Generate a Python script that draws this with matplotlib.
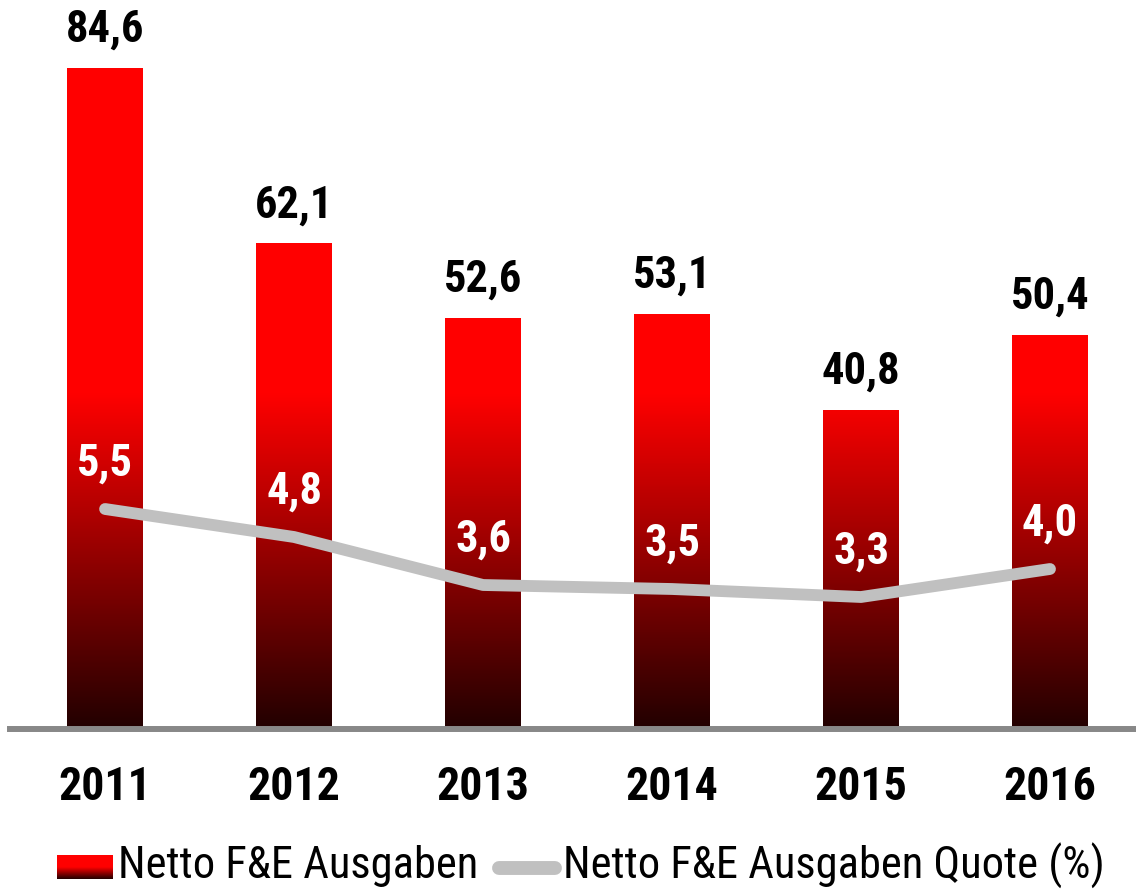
import numpy as np
import matplotlib
matplotlib.use("Agg")
from matplotlib import pyplot as plt
from matplotlib.colors import LinearSegmentedColormap
from matplotlib.lines import Line2D

plt.rcParams['font.family'] = ['Roboto Condensed', 'Liberation Sans', 'DejaVu Sans']

years = ['2011', '2012', '2013', '2014', '2015', '2016']
ausgaben = [84.6, 62.1, 52.6, 53.1, 40.8, 50.4]
quote = [5.5, 4.8, 3.6, 3.5, 3.3, 4.0]
labels_bar = ['84,6', '62,1', '52,6', '53,1', '40,8', '50,4']
labels_quote = ['5,5', '4,8', '3,6', '3,5', '3,3', '4,0']

# gradient: dark at the bottom, pure red from ~43 upwards
grad = LinearSegmentedColormap.from_list('grad', ['#220000', '#ff0000'])
gradTop = 43

fig = plt.figure(figsize=(11.36, 8.91), dpi=100)
ax = fig.add_axes([10/1136, 162/891, 1126/1136, 729/891])

x = np.arange(len(years))
bars = ax.bar(x, ausgaben, width=0.40, color='none', zorder=2)
for rect in bars:
    x0 = rect.get_x()
    h = rect.get_height()
    yy = np.linspace(0, h, 300).reshape(-1, 1)
    ax.imshow(yy, cmap=grad, vmin=0, vmax=gradTop, origin='lower', aspect='auto',
              extent=(x0, x0 + rect.get_width(), 0, h), zorder=2, interpolation='bilinear')

for xi, v, t in zip(x, ausgaben, labels_bar):
    ax.annotate(t, (xi, v), xytext=(0, 28), textcoords='offset points', ha='center', va='center',
                fontsize=32, fontweight='bold', color='black')

ax.set_xlim(-0.503, 5.455)
ax.set_ylim(0, 729/7.81)
for s in ['top', 'right', 'left']:
    ax.spines[s].set_visible(False)
ax.spines['bottom'].set_color('#888888')
ax.spines['bottom'].set_linewidth(4.3)
ax.set_yticks([])
ax.set_xticks(x)
ax.set_xticklabels(years, fontsize=33, fontweight='bold')
ax.tick_params(axis='x', length=0, pad=26)

ax2 = ax.twinx()
ax2.plot(x, quote, color='#c0c0c0', lw=8.5, solid_capstyle='round', solid_joinstyle='round', zorder=3)
for xi, v, t in zip(x, quote, labels_quote):
    ax2.annotate(t, (xi, v), xytext=(0, 33), textcoords='offset points', ha='center', va='center',
                 fontsize=32, fontweight='bold', color='white', zorder=4)
ax2.set_ylim(0, 729/40)
ax2.set_xlim(-0.503, 5.455)
ax2.axis('off')

# legend
sw = fig.add_axes([57/1136, (891-879)/891, 56/1136, 24/891])
sw.imshow(np.linspace(0, 1, 100).reshape(-1, 1), cmap=LinearSegmentedColormap.from_list('lg', ['#220000', '#ff0000', '#ff0000']),
          origin='lower', aspect='auto')
sw.axis('off')
fig.text(118/1136, (891-866)/891, 'Netto F&E Ausgaben', fontsize=32, va='center', ha='left')
fig.add_artist(Line2D([499/1136, 555/1136], [(891-868)/891] * 2, transform=fig.transFigure,
                      color='#c0c0c0', lw=10, solid_capstyle='round'))
fig.text(563/1136, (891-866)/891, 'Netto F&E Ausgaben Quote (%)', fontsize=32, va='center', ha='left')

fig.savefig('out.png', dpi=100)
